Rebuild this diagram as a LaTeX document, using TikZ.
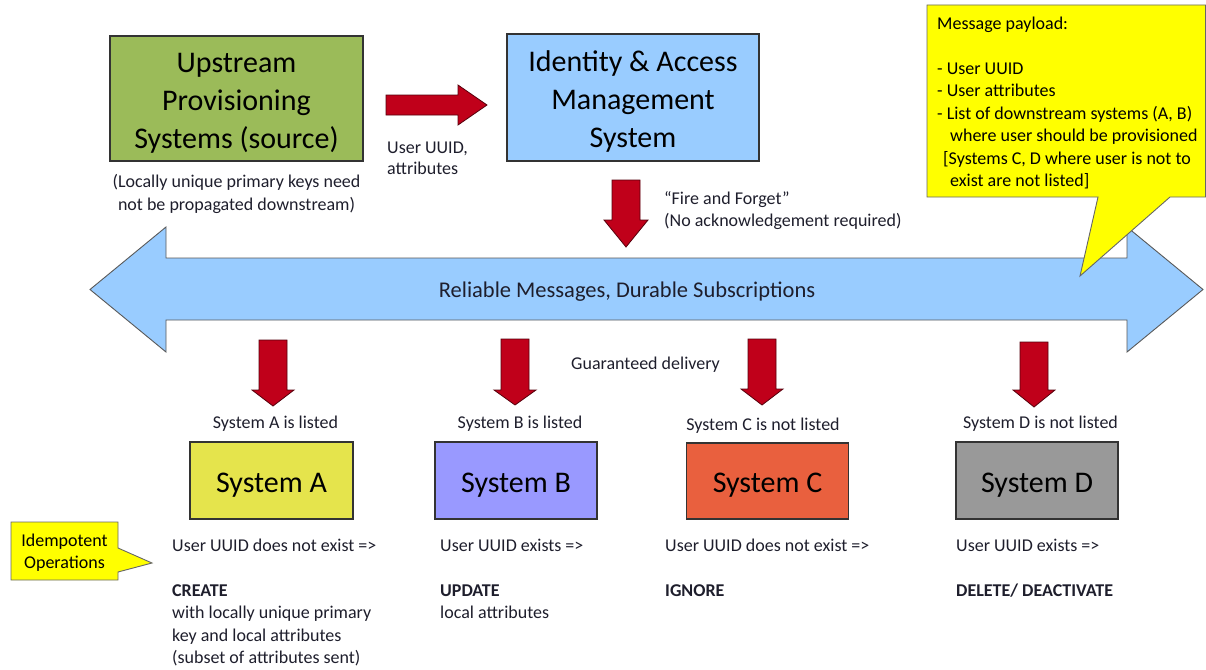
\documentclass[tikz,border=0pt]{standalone}
\usepackage{fontspec}
\setmainfont{Carlito}
\definecolor{upgreen}{HTML}{9BBB59}
\definecolor{iamblue}{HTML}{99CCFF}
\definecolor{arrred}{HTML}{C0001A}
\definecolor{sysA}{HTML}{E5E44C}
\definecolor{sysB}{HTML}{9999FF}
\definecolor{sysC}{HTML}{E9603E}
\definecolor{sysD}{HTML}{999999}
\definecolor{callyellow}{HTML}{FFFF00}
\definecolor{txt}{HTML}{1E1E2C}
\newcommand\reddownarrow[6]{% x, top, head base, tip, body half width, head half width
  \draw[redarrow] (#1-#5,#2) -- (#1+#5,#2) -- (#1+#5,#3) -- (#1+#6,#3) -- (#1,#4)
    -- (#1-#6,#3) -- (#1-#5,#3) -- cycle;}
\begin{document}
\begin{tikzpicture}[x=1pt,y=-1pt,
  bigbox/.style={draw=black!80, line width=1.1pt, inner sep=0pt},
  boxtext/.style={inner sep=0pt, align=center, font=\fontsize{30}{38}\selectfont, text=black, yshift=-4.5pt},
  small/.style={font=\fontsize{18}{22.5}\selectfont, text=txt, inner sep=0pt},
  redarrow/.style={fill=arrred, draw=black!55!arrred, line width=0.8pt},
  bluearrow/.style={fill=iamblue, draw=black!65, line width=0.9pt},
  callout/.style={fill=callyellow, draw=black!60, line width=0.9pt}]
\useasboundingbox (0,0) rectangle (1206,669);

% top boxes
\node[bigbox, fill=upgreen, minimum width=253pt, minimum height=125pt] (up) at (236.5,98.5) {};
\node[boxtext] (uptext) at (up.center) {Upstream\\Provisioning\\Systems (source)};
\node[bigbox, fill=iamblue, minimum width=252pt, minimum height=127pt] (iam) at (633,97.5) {};
\node[boxtext, yshift=0.5pt] (iamtext) at (iam.center) {Identity \& Access\\Management\\System};

\node[small, align=center, anchor=base, font=\fontsize{18}{23.5}\selectfont] (upnote) at (236.5,210.5)
  {(Locally unique primary keys need\\not be propagated downstream)};

% right arrow
\draw[redarrow] (386,95) -- (458,95) -- (458,85) -- (487,105) -- (458,125) -- (458,115) -- (386,115) -- cycle;
\node[small, align=left, anchor=base west, font=\fontsize{18}{21}\selectfont] (uuidlbl) at (387,174)
  {User UUID,\\attributes};

% down arrow from IAM
\reddownarrow{626}{180}{220}{247}{14}{22}
\node[small, align=left, anchor=base west, font=\fontsize{18}{22}\selectfont] (ffl) at (664,226)
  {“Fire and Forget”\\(No acknowledgement required)};

% big double arrow
\draw[bluearrow] (90,289.5) -- (166,227) -- (166,258) -- (1127,258) -- (1127,227) -- (1203,289.5)
  -- (1127,352) -- (1127,320) -- (166,320) -- (166,352) -- cycle;
\node[inner sep=0pt, font=\fontsize{22.5}{27}\selectfont, text=txt, anchor=base] (bus) at (627,297)
  {Reliable Messages, Durable Subscriptions};

% payload callout
\draw[callout] (927,5) -- (1205.5,5) -- (1205.5,197) -- (1170,197) -- (1080,276) -- (1098,197) -- (927,197) -- cycle;
\node[small, align=left, anchor=base west, text=black] (payload) at (937,186.5)
  {Message payload:\\[0pt]\mbox{}\\- User UUID\\- User attributes\\- List of downstream systems (A, B)\\
   \hspace*{13pt}where user should be provisioned\\
   \hspace*{6pt}[Systems C, D where user is not to\\
   \hspace*{13pt}exist are not listed]};

% delivery arrows
\reddownarrow{273}{340}{390}{406}{14}{21}
\reddownarrow{515}{339}{390}{405}{14}{21}
\reddownarrow{762}{339}{389}{405}{14}{21}
\reddownarrow{1034}{342}{390}{407}{14}{21}
\node[small, anchor=base] (guar) at (645.5,369) {Guaranteed delivery};

\node[small, anchor=base] (la) at (275.5,428) {System A is listed};
\node[small, anchor=base] (lb) at (520,428) {System B is listed};
\node[small, anchor=base] (lc) at (763,430) {System C is not listed};
\node[small, anchor=base] (ld) at (1040.5,428) {System D is not listed};

% system boxes
\node[bigbox, fill=sysA, minimum width=163pt, minimum height=77pt] (sa) at (271.5,480.5) {};
\node[boxtext] (satext) at (sa.center) {System A};
\node[bigbox, fill=sysB, minimum width=162pt, minimum height=77pt] (sb) at (516,480.5) {};
\node[boxtext] (sbtext) at (sb.center) {System B};
\node[bigbox, fill=sysC, minimum width=162pt, minimum height=76pt] (sc) at (767.5,481) {};
\node[boxtext] (sctext) at (sc.center) {System C};
\node[bigbox, fill=sysD, minimum width=162pt, minimum height=77pt] (sd) at (1037,480.5) {};
\node[boxtext] (sdtext) at (sd.center) {System D};

% operations
\node[small, align=left, anchor=base west] (opa) at (172,663.5)
  {User UUID does not exist =>\\[0pt]\mbox{}\\\textbf{CREATE}\\with locally unique primary\\key and local attributes\\(subset of attributes sent)};
\node[small, align=left, anchor=base west] (opb) at (440,618.5)
  {User UUID exists =>\\[0pt]\mbox{}\\\textbf{UPDATE}\\local attributes};
\node[small, align=left, anchor=base west] (opc) at (665,596)
  {User UUID does not exist =>\\[0pt]\mbox{}\\\textbf{IGNORE}};
\node[small, align=left, anchor=base west] (opd) at (956,596)
  {User UUID exists =>\\[0pt]\mbox{}\\\textbf{DELETE/ DEACTIVATE}};

% idempotent callout
\draw[callout] (11,522) -- (118,522) -- (118,548) -- (152,563) -- (118,572) -- (118,580) -- (11,580) -- cycle;
\node[small, align=center, anchor=base, text=black, font=\fontsize{18}{21.5}\selectfont] (idem) at (64.5,568)
  {Idempotent\\Operations};
\end{tikzpicture}
\end{document}
